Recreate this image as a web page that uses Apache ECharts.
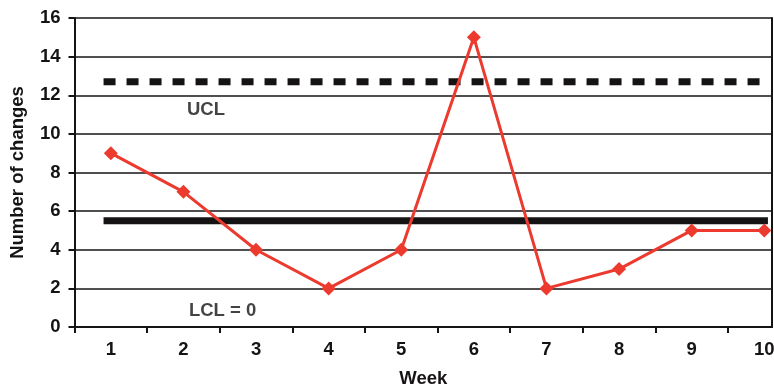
<!DOCTYPE html>
<html><head><meta charset="utf-8">
<script src="https://cdn.jsdelivr.net/npm/echarts@6/dist/echarts.min.js"></script>
<style>html,body{margin:0;padding:0;background:#fff}#c{width:774px;height:389px}</style>
</head><body><div id="c"></div>
<script>
const weeks = [1,2,3,4,5,6,7,8,9,10];
const changes = [9,7,4,2,4,15,2,3,5,5];
const yTicks = [0,2,4,6,8,10,12,14,16];
const uclValue = 12.7;
const meanValue = 5.5;
const limitSpan = [0.9, 10.05];
const uclLabel = 'UCL';
const lclLabel = 'LCL = 0';

const FONT = '"Liberation Sans",Arial,sans-serif';
const FS = 18.5;
const INK = '#161314';
const chart = echarts.init(document.getElementById('c'));
chart.setOption({
  animation: false,
  grid: {left: 74.5, right: 2, top: 18, bottom: 62, outerBoundsMode: 'none', containLabel: false},
  xAxis: {
    type: 'value', min: 0.5, max: 10.106,
    name: 'Week', nameLocation: 'middle', nameGap: 42,
    nameTextStyle: {fontFamily: FONT, fontWeight: 'bold', fontSize: FS, color: INK},
    axisLine: {show: true, lineStyle: {color: INK, width: 2}},
    axisTick: {show: true, length: 6, lineStyle: {color: INK, width: 2}, customValues: [0.5,1.5,2.5,3.5,4.5,5.5,6.5,7.5,8.5,9.5]},
    axisLabel: {customValues: weeks, margin: 13, fontFamily: FONT, fontWeight: 'bold', fontSize: FS, color: INK},
    splitLine: {show: false}
  },
  yAxis: [{
    type: 'value', min: 0, max: 16, interval: 2,
    name: 'Number of changes', nameLocation: 'middle', nameGap: 47, nameRotate: 90,
    nameTextStyle: {fontFamily: FONT, fontWeight: 'bold', fontSize: FS, color: INK},
    axisLine: {show: true, lineStyle: {color: INK, width: 2}},
    axisTick: {show: true, length: 6, lineStyle: {color: INK, width: 2}},
    axisLabel: {margin: 14, fontFamily: FONT, fontWeight: 'bold', fontSize: FS, color: INK,
      customValues: yTicks},
    splitLine: {show: true, lineStyle: {color: INK, width: 1.6}}
  }, {
    type: 'value', min: 0, max: 16, position: 'right',
    axisLine: {show: true, lineStyle: {color: INK, width: 2}},
    axisTick: {show: false}, axisLabel: {show: false}, splitLine: {show: false}
  }],
  series: [{
    type: 'line',
    data: [[limitSpan[0], uclValue], [limitSpan[1], uclValue]],
    symbol: 'none', silent: true,
    lineStyle: {color: INK, width: 7, type: [12, 11]}
  }, {
    type: 'line',
    data: [[limitSpan[0], meanValue], [limitSpan[1], meanValue]],
    symbol: 'none', silent: true,
    lineStyle: {color: INK, width: 7}
  }, {
    type: 'line',
    data: weeks.map((w, i) => [w, changes[i]]),
    symbol: 'diamond', symbolSize: 14,
    lineStyle: {color: '#ec3a2e', width: 3},
    itemStyle: {color: '#ec3a2e'},
    z: 5
  }, {
    type: 'scatter',
    data: [[2.31, 11.24, uclLabel], [2.54, 0.85, lclLabel]],
    symbolSize: 0,
    label: {show: true, position: 'inside', formatter: p => p.data[2],
      fontFamily: FONT, fontWeight: 'bold', fontSize: FS, color: INK}
  }]
});
</script></body></html>
